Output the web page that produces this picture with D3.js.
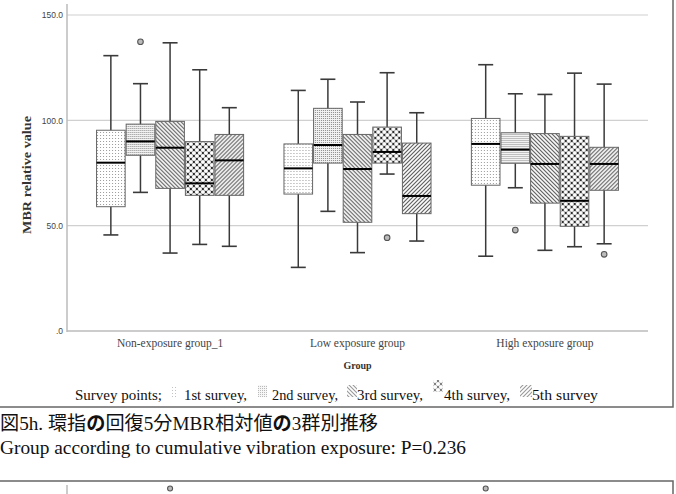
<!DOCTYPE html>
<html>
<head>
<meta charset="utf-8">
<script src="https://cdn.jsdelivr.net/npm/d3@7"></script>
<style>
  html, body { margin: 0; padding: 0; background: #fff; }
  svg { display: block; }
</style>
</head>
<body>
<script>
// 数据：分组、调查时点，以及每个箱体的五数（下须, Q1, 中位数, Q3, 上须）
const groups = ["Non-exposure group_1", "Low exposure group", "High exposure group"];
const surveys = ["1st survey", "2nd survey", "3rd survey", "4th survey", "5th survey"];

// 每行一个分组，每列一个调查时点
const whiskerLow = [
  [45.6, 65.8, 37.0, 41.1, 40.2],
  [30.2, 56.8, 37.2, 74.5, 42.7],
  [35.5, 68.0, 38.3, 40.0, 41.4]
];
const q1 = [
  [59.0, 83.4, 67.7, 64.4, 64.4],
  [65.0, 79.7, 51.6, 79.7, 55.7],
  [69.2, 79.6, 60.7, 49.7, 66.8]
];
const median = [
  [79.9, 90.0, 87.0, 70.1, 81.0],
  [77.2, 88.3, 76.9, 85.0, 64.1],
  [88.8, 86.1, 79.3, 61.8, 79.3]
];
const q3 = [
  [95.3, 98.2, 99.5, 89.9, 93.3],
  [88.8, 105.7, 93.3, 96.8, 89.2],
  [100.9, 94.1, 93.7, 92.4, 87.2]
];
const whiskerHigh = [
  [130.7, 117.4, 136.8, 124.0, 106.0],
  [114.2, 119.5, 108.7, 122.6, 103.6],
  [126.4, 112.6, 112.3, 122.4, 117.2]
];
// 离群点 [分组序号, 时点序号, 值]
const outliers = [
  [0, 1, 137.3],
  [1, 3, 44.3],
  [2, 1, 47.9],
  [2, 4, 36.4]
];
const yTicks = [0, 50, 100, 150];

const width = 676, height = 494;
const svg = d3.select("body").append("svg")
  .attr("width", width)
  .attr("height", height);

// 图案填充
const defs = svg.append("defs");
function pat(id, size) {
  return defs.append("pattern").attr("id", id)
    .attr("patternUnits", "userSpaceOnUse")
    .attr("width", size).attr("height", size);
}
let p = pat("p1", 3);
p.append("rect").attr("width", 3).attr("height", 3).attr("fill", "#fff");
p.append("rect").attr("x", 1).attr("y", 0).attr("width", 1).attr("height", 1).attr("fill", "#9a9a9a");
p = pat("p2", 2);
p.append("rect").attr("width", 2).attr("height", 2).attr("fill", "#f2f2f2");
p.append("rect").attr("width", 1).attr("height", 1).attr("fill", "#8c8c8c");
p = pat("p3", 4);
p.append("rect").attr("width", 4).attr("height", 4).attr("fill", "#fff");
p.append("path").attr("d", "M-1,-1L5,5M-1,3L1,5M3,-1L5,1").attr("stroke", "#555").attr("stroke-width", 1.1);
p = pat("p4", 6);
p.append("rect").attr("width", 6).attr("height", 6).attr("fill", "#2a2a2a");
[[0, 0], [6, 0], [0, 6], [6, 6], [3, 3]].forEach(c =>
  p.append("circle").attr("cx", c[0]).attr("cy", c[1]).attr("r", 2.1).attr("fill", "#fff"));
p = pat("p5", 4);
p.append("rect").attr("width", 4).attr("height", 4).attr("fill", "#fff");
p.append("path").attr("d", "M-1,5L5,-1M-1,1L1,-1M3,5L5,3").attr("stroke", "#555").attr("stroke-width", 1.1);
const fills = surveys.map((s, i) => `url(#p${i + 1})`);

// 外框
svg.append("rect")
  .attr("x", -2).attr("y", -2).attr("width", 675).attr("height", 409)
  .attr("fill", "none").attr("stroke", "#666").attr("stroke-width", 1.5);

// 比例尺
const y = d3.scaleLinear().domain([0, 150]).range([331, 15]);
const x0 = d3.scaleBand().domain(groups).range([67, 648])
  .paddingInner(0.21).paddingOuter(0.155);
const x1 = d3.scaleBand().domain(surveys).range([0, x0.bandwidth()]);

// 网格线
svg.append("g").selectAll("line")
  .data(yTicks.filter(d => d > 0))
  .join("line")
  .attr("x1", 67).attr("x2", 648)
  .attr("y1", d => y(d)).attr("y2", d => y(d))
  .attr("stroke", "#d0d0d0").attr("stroke-width", 1.2);

// y 轴
const yAxis = svg.append("g")
  .attr("transform", "translate(67,0)")
  .call(d3.axisLeft(y).tickValues(yTicks).tickSize(0).tickPadding(4)
    .tickFormat(d => d === 0 ? ".0" : d.toFixed(1)));
yAxis.select(".domain").remove();
yAxis.selectAll("text")
  .attr("font-family", "Liberation Sans, Arial, sans-serif")
  .attr("font-size", 8.5).attr("fill", "#444");
svg.append("line")
  .attr("x1", 67).attr("x2", 67).attr("y1", 4).attr("y2", 332)
  .attr("stroke", "#bbb").attr("stroke-width", 1.5);
svg.append("line")
  .attr("x1", 67).attr("x2", 648).attr("y1", 331).attr("y2", 331)
  .attr("stroke", "#bbb").attr("stroke-width", 1.5);

// x 轴标签
const xAxis = svg.append("g")
  .attr("transform", "translate(0,331)")
  .call(d3.axisBottom(x0).tickSize(0).tickPadding(8));
xAxis.select(".domain").remove();
xAxis.selectAll("text")
  .attr("font-family", "Liberation Serif, serif")
  .attr("font-size", 11.5).attr("fill", "#444");

svg.append("text")
  .attr("x", 357.5).attr("y", 369)
  .attr("text-anchor", "middle")
  .attr("font-family", "Liberation Serif, serif")
  .attr("font-weight", "bold").attr("font-size", 10).attr("fill", "#333")
  .text("Group");
svg.append("text")
  .attr("transform", "translate(31,175) rotate(-90)")
  .attr("text-anchor", "middle")
  .attr("font-family", "Liberation Serif, serif")
  .attr("font-weight", "bold").attr("font-size", 12).attr("fill", "#333")
  .attr("textLength", 118).attr("lengthAdjust", "spacingAndGlyphs")
  .text("MBR relative value");

// 箱线图
const boxes = [];
groups.forEach((g, gi) => surveys.forEach((s, si) => boxes.push({
  g, s, si,
  lo: whiskerLow[gi][si], q1: q1[gi][si], med: median[gi][si],
  q3: q3[gi][si], hi: whiskerHigh[gi][si]
})));

const box = svg.append("g").selectAll("g")
  .data(boxes)
  .join("g")
  .attr("transform", d => `translate(${x0(d.g) + x1(d.s)},0)`);
const bw = x1.bandwidth();
const cap = 15;

box.append("line")
  .attr("x1", bw / 2).attr("x2", bw / 2)
  .attr("y1", d => y(d.hi)).attr("y2", d => y(d.lo))
  .attr("stroke", "#3a3a3a").attr("stroke-width", 1.5);
box.append("line")
  .attr("x1", bw / 2 - cap / 2).attr("x2", bw / 2 + cap / 2)
  .attr("y1", d => y(d.hi)).attr("y2", d => y(d.hi))
  .attr("stroke", "#3a3a3a").attr("stroke-width", 1.6);
box.append("line")
  .attr("x1", bw / 2 - cap / 2).attr("x2", bw / 2 + cap / 2)
  .attr("y1", d => y(d.lo)).attr("y2", d => y(d.lo))
  .attr("stroke", "#3a3a3a").attr("stroke-width", 1.6);
box.append("rect")
  .attr("x", 0.5).attr("width", bw - 1)
  .attr("y", d => y(d.q3)).attr("height", d => y(d.q1) - y(d.q3))
  .attr("fill", d => fills[d.si])
  .attr("stroke", "#666").attr("stroke-width", 1);
box.append("line")
  .attr("x1", 0.5).attr("x2", bw - 0.5)
  .attr("y1", d => y(d.med)).attr("y2", d => y(d.med))
  .attr("stroke", "#000").attr("stroke-width", 2);

// 离群点
svg.append("g").selectAll("circle")
  .data(outliers)
  .join("circle")
  .attr("cx", d => x0(groups[d[0]]) + x1(surveys[d[1]]) + bw / 2)
  .attr("cy", d => y(d[2]))
  .attr("r", 2.8)
  .attr("fill", "#bbb").attr("stroke", "#555").attr("stroke-width", 1.1);

// 图例
const legendItems = [
  { label: "Survey points;", x: 75, len: 87 },
  { swatch: 0, x: 170, w: 7 }, { label: "1st survey,", x: 184, len: 63 },
  { swatch: 1, x: 258, w: 9 }, { label: "2nd survey,", x: 272, len: 66 },
  { swatch: 2, x: 347, w: 10 }, { label: "3rd survey,", x: 357, len: 66 },
  { swatch: 3, x: 433, w: 10, dy: -5 }, { label: "4th survey,", x: 444, len: 66 },
  { swatch: 4, x: 520, w: 12 }, { label: "5th survey", x: 532, len: 66 }
];
const legend = svg.append("g");
legendItems.forEach(it => {
  if (it.label) {
    legend.append("text")
      .attr("x", it.x).attr("y", 400)
      .attr("font-family", "Liberation Serif, serif")
      .attr("font-size", 15).attr("fill", "#111")
      .attr("textLength", it.len).attr("lengthAdjust", "spacingAndGlyphs")
      .text(it.label);
  } else {
    legend.append("rect")
      .attr("x", it.x).attr("y", 385 + (it.dy || 0))
      .attr("width", it.w).attr("height", 12)
      .attr("fill", fills[it.swatch]).attr("opacity", 0.6);
  }
});

// 图题
const cap1 = svg.append("text")
  .attr("x", 0).attr("y", 430)
  .attr("font-family", "Liberation Serif, 'Noto Sans CJK JP', serif")
  .attr("font-size", 19).attr("fill", "#111")
  .attr("textLength", 378).attr("lengthAdjust", "spacingAndGlyphs");
cap1.append("tspan").text("図5h.  環指");
cap1.append("tspan").attr("font-weight", "bold").attr("font-family", "'Noto Sans CJK JP', sans-serif").text("の");
cap1.append("tspan").text("回復5分MBR相対値");
cap1.append("tspan").attr("font-weight", "bold").attr("font-family", "'Noto Sans CJK JP', sans-serif").text("の");
cap1.append("tspan").text("3群別推移");
svg.append("text")
  .attr("x", 0).attr("y", 454)
  .attr("font-family", "Liberation Serif, serif")
  .attr("font-size", 19).attr("fill", "#111")
  .attr("textLength", 466).attr("lengthAdjust", "spacingAndGlyphs")
  .text("Group according to cumulative vibration exposure: P=0.236");

// 下一张图的顶部（被截断）
svg.append("path")
  .attr("d", "M-2,481H673V496")
  .attr("fill", "none").attr("stroke", "#666").attr("stroke-width", 1.5);
svg.append("line")
  .attr("x1", 67).attr("x2", 67).attr("y1", 485).attr("y2", 496)
  .attr("stroke", "#bbb").attr("stroke-width", 1.5);
const nextOutliers = [[0, 2], [2, 0]];
svg.append("g").selectAll("circle")
  .data(nextOutliers)
  .join("circle")
  .attr("cx", d => x0(groups[d[0]]) + x1(surveys[d[1]]) + bw / 2)
  .attr("cy", 488.5)
  .attr("r", 2.5)
  .attr("fill", "#bbb").attr("stroke", "#555").attr("stroke-width", 1.1);
</script>
</body>
</html>
